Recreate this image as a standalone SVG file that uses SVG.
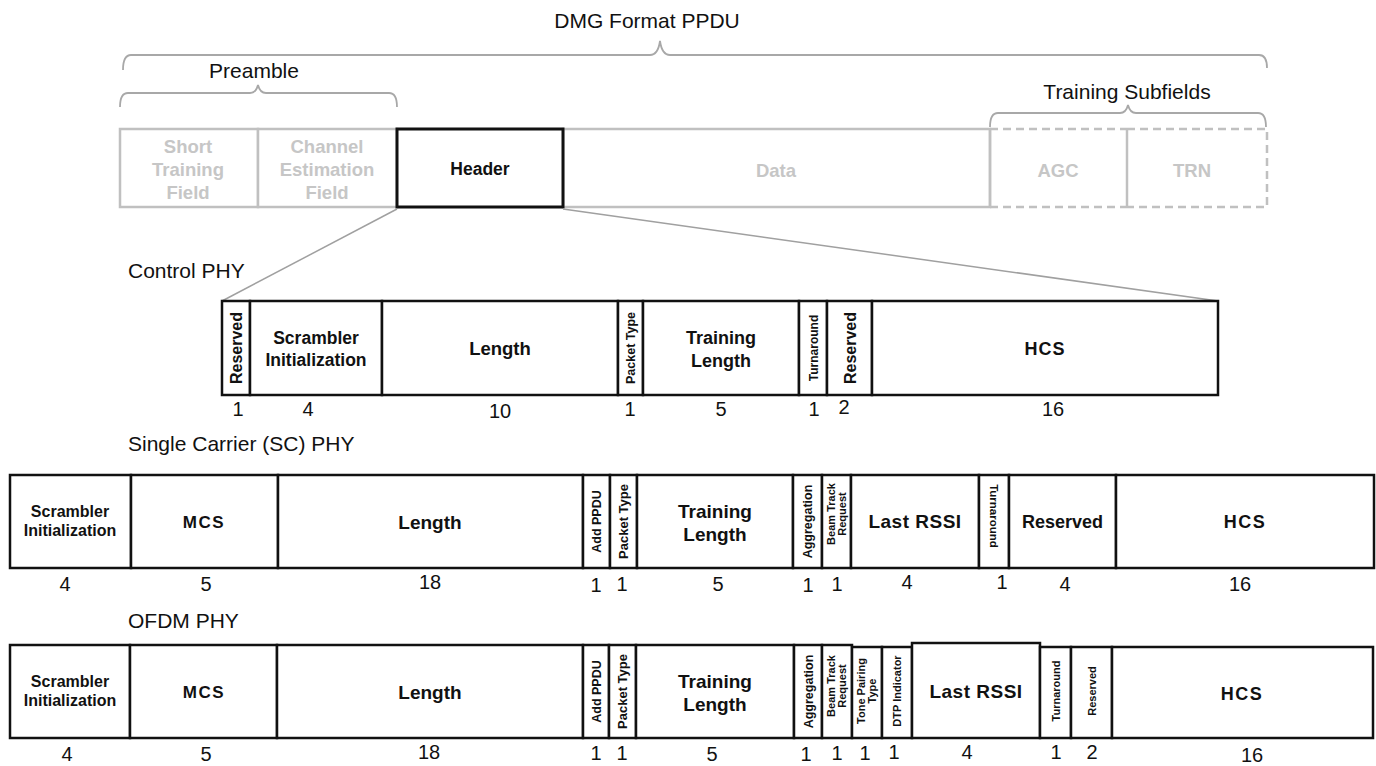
<svg xmlns="http://www.w3.org/2000/svg" width="1376" height="766" viewBox="0 0 1376 766">
<style>
text{font-family:"Liberation Sans",Arial,sans-serif;fill:#111}
.lbl{font-size:21px}
.num{font-size:20px;text-anchor:middle}
.b{font-weight:bold;text-anchor:middle}
.g{font-weight:bold;text-anchor:middle;fill:#c6c6c6;font-size:18.5px}
.box{fill:#fff;stroke:#111;stroke-width:2.5}
.hdr{fill:#fff;stroke:#111;stroke-width:3}
.gbox{fill:#fff;stroke:#c0c0c0;stroke-width:2.5}
.dash{fill:none;stroke:#c0c0c0;stroke-width:2.5;stroke-dasharray:8 5}
.brace{fill:none;stroke:#a8a8a8;stroke-width:1.8}
.conn{fill:none;stroke:#a0a0a0;stroke-width:1.5}
</style>
<rect width="1376" height="766" fill="#fff"/>

<g id="labels">
<text class="lbl" x="647" y="28" text-anchor="middle" font-size="22">DMG Format PPDU</text>
<text class="lbl" x="254" y="78" text-anchor="middle" font-size="22">Preamble</text>
<text class="lbl" x="1127" y="99" text-anchor="middle" font-size="19">Training Subfields</text>
<text class="lbl" x="128" y="278">Control PHY</text>
<text class="lbl" x="128" y="451">Single Carrier (SC) PHY</text>
<text class="lbl" x="128" y="628">OFDM PHY</text>
</g>

<g id="braces">
<path class="brace" d="M123,70 Q123,55 131,55 L650,55 Q658,55 660,41 Q662,55 670,55 L1259,55 Q1267,55 1267,68"/>
<path class="brace" d="M120,107 Q120,93 128,93 L250,93 Q256,93 258,85 Q260,93 266,93 L389,93 Q397,93 397,107"/>
<path class="brace" d="M990,127 Q990,113 998,113 L1120,113 Q1126,113 1128,105 Q1130,113 1136,113 L1258,113 Q1266,113 1266,127"/>
</g>

<g id="ppdu">
<g id="stf"><rect class="gbox" x="120" y="129" width="138" height="78"/>
<text class="g" x="188" y="153">Short</text><text class="g" x="188" y="176">Training</text><text class="g" x="188" y="199">Field</text></g>
<g id="cef"><rect class="gbox" x="258" y="129" width="139" height="78"/>
<text class="g" x="327" y="153">Channel</text><text class="g" x="327" y="176">Estimation</text><text class="g" x="327" y="199">Field</text></g>
<g id="data"><rect class="gbox" x="563" y="129" width="427" height="78"/>
<text class="g" x="776" y="177">Data</text></g>
<g id="agc"><path class="dash" d="M990,129 H1127 M990,207 H1127"/><line x1="990" y1="129" x2="990" y2="207" stroke="#c0c0c0" stroke-width="2.5"/>
<text class="g" x="1058" y="177">AGC</text></g>
<g id="trn"><path class="dash" d="M1127,129 H1267 V207 H1127"/><line x1="1127" y1="129" x2="1127" y2="207" stroke="#c0c0c0" stroke-width="2.5"/>
<text class="g" x="1192" y="177">TRN</text></g>
<g id="header"><rect class="hdr" x="397" y="129" width="166" height="78"/>
<text class="b" x="480" y="175" font-size="17.5">Header</text></g>
</g>

<g id="connectors">
<line class="conn" x1="397" y1="209" x2="222" y2="301"/>
<line class="conn" x1="563" y1="209" x2="1218" y2="301"/>
</g>

<g id="control">
<rect class="box" x="222" y="301" width="28" height="94"/>
<text class="b" font-size="16" transform="translate(236,348) rotate(-90)" dy="6">Reserved</text>
<rect class="box" x="250" y="301" width="132" height="94"/>
<text class="b" font-size="17.5" x="316" y="344">Scrambler</text><text class="b" font-size="17.5" x="316" y="366">Initialization</text>
<rect class="box" x="382" y="301" width="236" height="94"/>
<text class="b" font-size="18.5" x="500" y="355">Length</text>
<rect class="box" x="618" y="301" width="25" height="94"/>
<text class="b" font-size="12.5" transform="translate(630.5,348) rotate(-90)" dy="4.5">Packet Type</text>
<rect class="box" x="643" y="301" width="156" height="94"/>
<text class="b" font-size="18" x="721" y="344">Training</text><text class="b" font-size="18" x="721" y="367">Length</text>
<rect class="box" x="799" y="301" width="28" height="94"/>
<text class="b" font-size="12" transform="translate(813,348) rotate(-90)" dy="4.5">Turnaround</text>
<rect class="box" x="827" y="301" width="45" height="94"/>
<text class="b" font-size="16" transform="translate(849.5,348) rotate(-90)" dy="6">Reserved</text>
<rect class="box" x="872" y="301" width="346" height="94"/>
<text class="b" font-size="18" x="1045" y="355" letter-spacing="1">HCS</text>
<text class="num" x="238" y="416">1</text><text class="num" x="308" y="416">4</text><text class="num" x="500" y="418">10</text><text class="num" x="630" y="416">1</text><text class="num" x="721" y="416">5</text><text class="num" x="814" y="416">1</text><text class="num" x="844" y="414">2</text><text class="num" x="1053" y="416">16</text>
</g>

<g id="sc">
<rect class="box" x="10" y="475" width="121" height="93"/>
<text class="b" font-size="16" x="70" y="517">Scrambler</text><text class="b" font-size="16" x="70" y="536">Initialization</text>
<rect class="box" x="131" y="475" width="147" height="93"/>
<text class="b" font-size="17" x="204" y="528" letter-spacing="1.5">MCS</text>
<rect class="box" x="278" y="475" width="305" height="93"/>
<text class="b" font-size="19" x="430" y="529">Length</text>
<rect class="box" x="583" y="475" width="27" height="93"/>
<text class="b" font-size="12.5" transform="translate(596.5,521.5) rotate(-90)" dy="4.5">Add PPDU</text>
<rect class="box" x="610" y="475" width="27" height="93"/>
<text class="b" font-size="13" transform="translate(623.5,521.5) rotate(-90)" dy="4.5">Packet Type</text>
<rect class="box" x="637" y="475" width="156" height="93"/>
<text class="b" font-size="19" x="715" y="518">Training</text><text class="b" font-size="19" x="715" y="541">Length</text>
<rect class="box" x="793" y="475" width="29" height="93"/>
<text class="b" font-size="12.5" transform="translate(807.5,521.5) rotate(-90)" dy="4.5">Aggregation</text>
<rect class="box" x="822" y="475" width="29" height="93"/>
<text class="b" font-size="11" transform="translate(836.5,514) rotate(-90)"><tspan x="0" y="-2">Beam Track</tspan><tspan x="0" y="9">Request</tspan></text>
<rect class="box" x="851" y="475" width="128" height="93"/>
<text class="b" font-size="19" x="915" y="528" letter-spacing="0.5">Last RSSI</text>
<rect class="box" x="979" y="475" width="30" height="93"/>
<text class="b" font-size="11.5" transform="translate(994,516) rotate(90)" dy="4">Turnaround</text>
<rect class="box" x="1009" y="475" width="107" height="93"/>
<text class="b" font-size="18" x="1062.5" y="528">Reserved</text>
<rect class="box" x="1116" y="475" width="258" height="93"/>
<text class="b" font-size="18" x="1245" y="528" letter-spacing="1.5">HCS</text>
<text class="num" x="65" y="591">4</text><text class="num" x="206" y="591">5</text><text class="num" x="430" y="589">18</text><text class="num" x="596" y="592">1</text><text class="num" x="622" y="591">1</text><text class="num" x="718" y="591">5</text><text class="num" x="808" y="592">1</text><text class="num" x="837" y="591">1</text><text class="num" x="907" y="589">4</text><text class="num" x="1002" y="589">1</text><text class="num" x="1065" y="591">4</text><text class="num" x="1240" y="591">16</text>
</g>

<g id="ofdm">
<rect class="box" x="10" y="645" width="120" height="93"/>
<text class="b" font-size="16" x="70" y="687">Scrambler</text><text class="b" font-size="16" x="70" y="706">Initialization</text>
<rect class="box" x="130" y="645" width="147" height="93"/>
<text class="b" font-size="17" x="204" y="698" letter-spacing="1.5">MCS</text>
<rect class="box" x="277" y="645" width="306" height="93"/>
<text class="b" font-size="19" x="430" y="699">Length</text>
<rect class="box" x="583" y="645" width="26" height="93"/>
<text class="b" font-size="12.5" transform="translate(596,691.5) rotate(-90)" dy="4.5">Add PPDU</text>
<rect class="box" x="609" y="645" width="27" height="93"/>
<text class="b" font-size="13" transform="translate(622.5,691.5) rotate(-90)" dy="4.5">Packet Type</text>
<rect class="box" x="636" y="645" width="158" height="93"/>
<text class="b" font-size="19" x="715" y="688">Training</text><text class="b" font-size="19" x="715" y="711">Length</text>
<rect class="box" x="794" y="645" width="28" height="93"/>
<text class="b" font-size="12.5" transform="translate(808,691.5) rotate(-90)" dy="4.5">Aggregation</text>
<rect class="box" x="822" y="645" width="30" height="93"/>
<text class="b" font-size="11" transform="translate(837,686) rotate(-90)"><tspan x="0" y="-2">Beam Track</tspan><tspan x="0" y="9">Request</tspan></text>
<rect class="box" x="852" y="647" width="30" height="91"/>
<text class="b" font-size="11" transform="translate(867,691) rotate(-90)"><tspan x="0" y="-2">Tone Pairing</tspan><tspan x="0" y="9">Type</tspan></text>
<rect class="box" x="882" y="647" width="30" height="91"/>
<text class="b" font-size="11" transform="translate(897,691) rotate(-90)" dy="4">DTP Indicator</text>
<rect class="box" x="912" y="643" width="128" height="95"/>
<text class="b" font-size="19" x="976" y="698" letter-spacing="0.5">Last RSSI</text>
<rect class="box" x="1040" y="647" width="31" height="91"/>
<text class="b" font-size="11" transform="translate(1055.5,691) rotate(-90)" dy="4">Turnaround</text>
<rect class="box" x="1071" y="647" width="41" height="91"/>
<text class="b" font-size="11" transform="translate(1091.5,691) rotate(-90)" dy="4">Reserved</text>
<rect class="box" x="1112" y="647" width="261" height="91"/>
<text class="b" font-size="18" x="1242" y="700" letter-spacing="1.5">HCS</text>
<text class="num" x="67" y="761">4</text><text class="num" x="206" y="761">5</text><text class="num" x="429" y="759">18</text><text class="num" x="596" y="760">1</text><text class="num" x="622" y="760">1</text><text class="num" x="712" y="761">5</text><text class="num" x="806" y="761">1</text><text class="num" x="837" y="760">1</text><text class="num" x="865" y="760">1</text><text class="num" x="894" y="759">1</text><text class="num" x="967" y="759">4</text><text class="num" x="1056" y="759">1</text><text class="num" x="1092" y="759">2</text><text class="num" x="1252" y="762">16</text>
</g>
</svg>
